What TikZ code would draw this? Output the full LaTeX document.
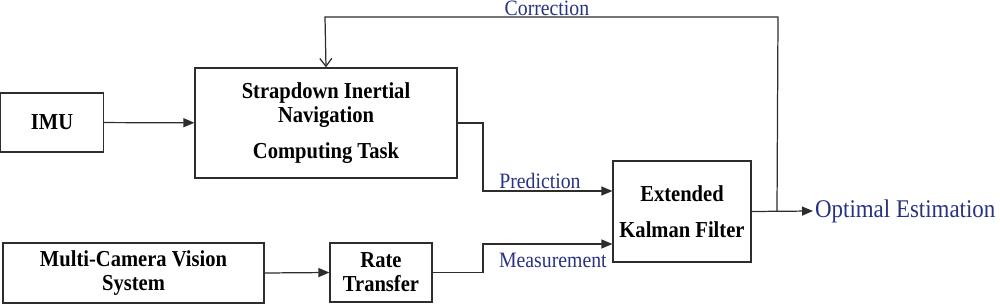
\documentclass[tikz,border=0pt]{standalone}
\usepackage{fontspec}
\setmainfont[FakeStretch=0.9]{Liberation Serif}
\usepackage{xcolor}
\usetikzlibrary{arrows.meta,positioning,calc}
\definecolor{labblue}{RGB}{40,50,130}
\definecolor{linegray}{RGB}{45,45,45}

\begin{document}
\begin{tikzpicture}[x=0.02cm, y=-0.02cm,
  font=\fontsize{12.5}{13.5}\selectfont,
  box/.style={draw=linegray, line width=0.7pt, align=center, inner sep=2pt,
              font=\fontsize{13}{13.6}\selectfont\bfseries},
  arr/.style={-{Triangle[length=2.2mm, width=1.8mm]}, line width=0.7pt, linegray},
  fb/.style={-{Straight Barb[length=1.6mm, width=2.4mm]}, line width=0.7pt, linegray},
  lab/.style={text=labblue, inner sep=1pt}]
\useasboundingbox (0,0) rectangle (1000,304);

\node[box, minimum width=2.06cm, minimum height=1.18cm] (imu) at (52,122.5) {IMU};
\node[box, minimum width=5.24cm, minimum height=2.2cm] (sins) at (326,123)
   {Strapdown Inertial\\ Navigation\\[7pt] Computing Task};
\node[box, minimum width=2.76cm, minimum height=2.02cm] (ekf) at (682,211.5)
   {Extended\\[7pt] Kalman Filter};
\node[box, minimum width=5.22cm, minimum height=1.2cm] (cam) at (133.5,273)
   {Multi-Camera Vision\\ System};
\node[box, minimum width=2.04cm, minimum height=1.18cm] (rate) at (381,272.5)
   {Rate\\ Transfer};
\node[lab, anchor=west, font=\fontsize{14.5}{15}\selectfont] (est) at (813,211)
   {Optimal Estimation};

\draw[arr] (imu) -- (sins);
\draw[arr] (cam.east) -- (rate.west);
\draw[arr] (sins.east) -- (483,123) |- ([yshift=0.41cm]ekf.west)
   node[lab, pos=0.72, above] {Prediction};
\draw[arr] (rate.east) -- (483,272.5) |- ([yshift=-0.65cm]ekf.west)
   node[lab, pos=0.77, below=4pt] {Measurement};
\draw[arr] (ekf.east) -- (est.west);

% feedback loop
\draw[fb] (777,211) -- (778,17) -- node[lab, above, pos=0.51, inner sep=0.5pt] {Correction}
   (325,17) -- (sins.north);
\end{tikzpicture}
\end{document}
